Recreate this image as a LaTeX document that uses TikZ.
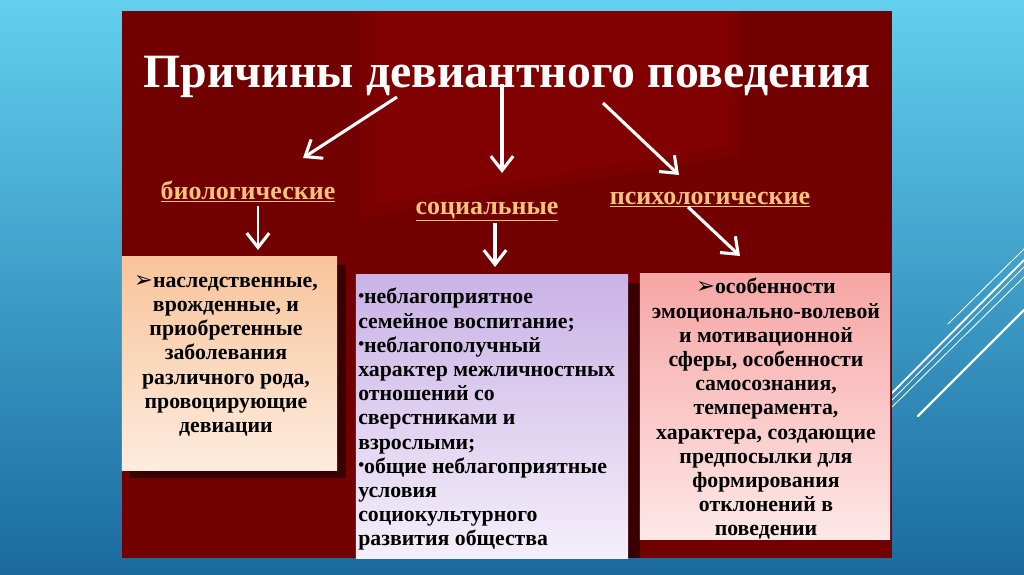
\documentclass[tikz,border=0pt]{standalone}
\usepackage{fontspec}
\setmainfont{Liberation Serif}
\newfontfamily\dingfont{DejaVu Sans}
\usetikzlibrary{arrows.meta,positioning,shadings}
\definecolor{skytop}{RGB}{98,208,238}
\definecolor{skybottom}{RGB}{26,106,160}
\definecolor{panelred}{RGB}{114,0,0}
\definecolor{panelglow}{RGB}{134,0,2}
\definecolor{shadowred}{RGB}{56,0,0}
\definecolor{labelorange}{RGB}{248,195,125}
\definecolor{peachtop}{RGB}{248,196,154}
\definecolor{peachbot}{RGB}{253,236,222}
\definecolor{lilactop}{RGB}{202,178,230}
\definecolor{lilacbot}{RGB}{244,239,250}
\definecolor{pinktop}{RGB}{246,166,164}
\definecolor{pinkbot}{RGB}{253,232,232}

\newcommand{\arrbullet}{{\dingfont\fontsize{16pt}{16pt}\selectfont ➢}}
\newcommand{\dotbullet}{{\fontsize{12pt}{12pt}\selectfont\raisebox{0.35ex}{•}}}

\begin{document}
\begin{tikzpicture}[x=0.025cm,y=-0.025cm,
  causebox/.style={rectangle, inner sep=0pt},
  causetext/.style={inner sep=0pt, text=black, font=\fontsize{15.5pt}{17.2pt}\selectfont\bfseries},
  kindlabel/.style={anchor=base, inner sep=0pt, text=labelorange, font=\fontsize{18.5pt}{20pt}\selectfont\bfseries},
  whitearrow/.style={draw=white, line width=2.2pt, -{Straight Barb[length=3.6mm,width=5.6mm,line width=2.2pt]}},
  deco/.style={draw=white, line cap=round}]

\useasboundingbox (0,0) rectangle (1024,574);

% ── slide background ────────────────────────────────────────────────────────
\fill[top color=skytop, bottom color=skybottom] (0,0) rectangle (1024,574);
\draw[deco, line width=0.6pt] (948,324) -- (1024,249);
\draw[deco, line width=1.3pt] (892,393) -- (1024,260);
\draw[deco, line width=0.6pt] (892,400) -- (1024,267);
\draw[deco, line width=0.6pt] (892,407) -- (1024,277);
\draw[deco, line width=1.6pt] (918,416) -- (1024,310);

% ── red panel ───────────────────────────────────────────────────────────────
\fill[panelred] (122,11) rectangle (892,558);
\fill[panelglow, opacity=0.45] (360,11) -- (740,11) -- (740,155) -- (360,218) -- cycle;
\fill[panelglow, opacity=0.55] (375,11) -- (732,11) -- (732,145) -- (375,205) -- cycle;

% ── title ───────────────────────────────────────────────────────────────────
\node[anchor=base, inner sep=0pt, text=white,
      font=\fontsize{34pt}{36pt}\selectfont\bfseries] (title) at (507,87)
  {Причины девиантного поведения};

% ── three kinds ─────────────────────────────────────────────────────────────
\node[kindlabel] (bio) at (248,199) {\underline{биологические}};
\node[kindlabel] (soc) at (487,214) {\underline{социальные}};
\node[kindlabel] (psy) at (710,204) {\underline{психологические}};

% ── shadows and boxes ───────────────────────────────────────────────────────
\fill[shadowred] (130,265) rectangle (346,478);
\fill[shadowred] (364,283) rectangle (640,558);

\node[causebox, minimum width=5.375cm, minimum height=5.325cm,
      top color=peachtop, bottom color=peachbot] (biobox) at (229.5,363.5) {};
\node[causebox, minimum width=6.8cm, minimum height=7.075cm,
      top color=lilactop, bottom color=lilacbot] (socbox) at (492,416.5) {};
\node[causebox, minimum width=6.25cm, minimum height=6.625cm,
      top color=pinktop, bottom color=pinkbot] (psybox) at (765,406.5) {};

% ── box texts ───────────────────────────────────────────────────────────────
\node[causetext, anchor=north, align=center] (biotext) at (226,275) {
  \arrbullet наследственные,\\
  врожденные, и\\
  приобретенные\\
  заболевания\\
  различного рода,\\
  провоцирующие\\
  девиации};

\node[causetext, anchor=north west, align=left] (soctext) at (358,288) {
  \dotbullet неблагоприятное\\
  семейное воспитание;\\
  \dotbullet неблагополучный\\
  характер межличностных\\
  отношений со\\
  сверстниками и\\
  взрослыми;\\
  \dotbullet общие неблагоприятные\\
  условия\\
  социокультурного\\
  развития общества};

\node[causetext, anchor=north, align=center] (psytext) at (766,278) {
  \arrbullet особенности\\
  эмоционально-волевой\\
  и мотивационной\\
  сферы, особенности\\
  самосознания,\\
  темперамента,\\
  характера, создающие\\
  предпосылки для\\
  формирования\\
  отклонений в\\
  поведении};

% ── arrows ──────────────────────────────────────────────────────────────────
\coordinate (t1) at (397,97);
\coordinate (t2) at (502,84);
\coordinate (t3) at (603,103);
\coordinate (h1) at (303,158);
\coordinate (h2) at (502,173);
\coordinate (h3) at (679,175);
\coordinate (b1) at (258,206);
\coordinate (b2) at (258,250);
\coordinate (s1) at (495,223);
\coordinate (s2) at (495,267);
\coordinate (p1) at (688,207);
\coordinate (p2) at (740,256);

\draw[whitearrow] (t1) -- (h1);
\draw[whitearrow] (t2) -- (h2);
\draw[whitearrow] (t3) -- (h3);
\draw[whitearrow, line width=1.5pt] (b1) -- (b2);
\draw[whitearrow, line width=2.8pt] (s1) -- (s2);
\draw[whitearrow] (p1) -- (p2);

\end{tikzpicture}
\end{document}
